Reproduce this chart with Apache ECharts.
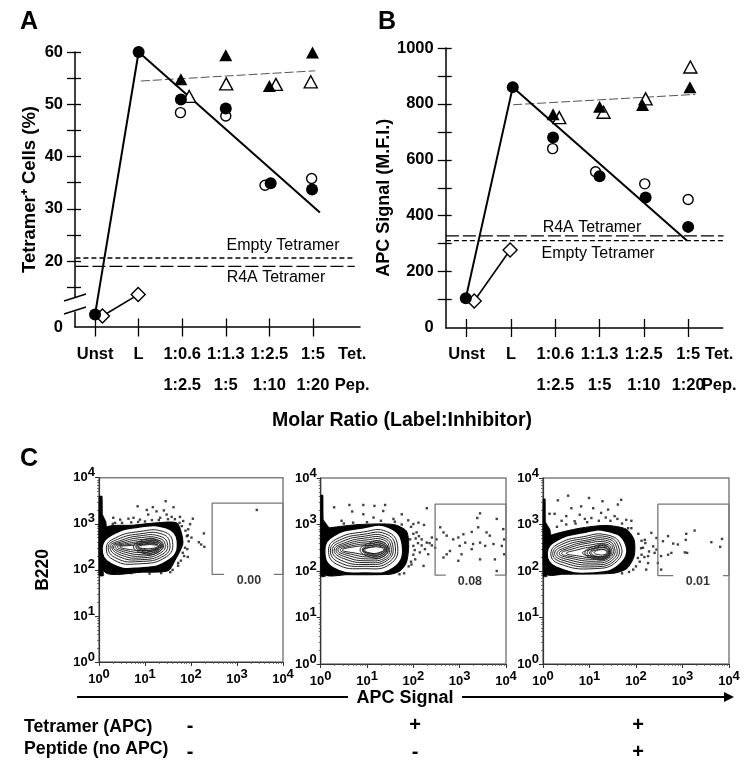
<!DOCTYPE html>
<html><head><meta charset="utf-8">
<script src="https://cdn.jsdelivr.net/npm/echarts@6/dist/echarts.min.js"></script>
<style>html,body{margin:0;padding:0;background:#fff}#c{width:750px;height:769px}</style></head>
<body><div id="c"></div>
<script>
const tickLabels = ['Unst','L','1:0.6\n1:2.5','1:1.3\n1:5','1:2.5\n1:10','1:5\n1:20'];
const sideLabel = 'Tet.\nPep.';
// Panel A
const aFilledCircle = [[1,60],[1.97,50.9],[3,49.2],[4.03,34.9],[4.98,33.7]];
const aUnstCircle = [[0,2.4],[1,60]];
const aOpenCircle = [[1.96,48.4],[3,47.75],[3.9,34.5],[4.97,35.8]];
const aFilledTri = [[1.97,54.8],[3,59.4],[4,53.5],[4.99,59.9]];
const aOpenTri = [[2.16,51.5],[3.01,53.9],[4.15,53.8],[4.95,54.3]];
const aDiamond = [[0.17,2.1],[0.99,13.6]];
const aFitSolid = [[1,60],[5.16,29.3]];
const aFitDashed = [[1.05,54.45],[5.05,56.4]];
const aEmpty = [[-0.45,20.6],[5.96,20.6]];
const aR4A = [[-0.45,19],[5.96,19]];
// Panel B
const bFilledCircle = [[1.04,860],[1.95,680],[3,541],[4.04,465],[5,360]];
const bUnstCircle = [[-0.02,105],[1.04,860]];
const bOpenCircle = [[1.94,640],[2.91,557],[4.02,514],[5,458]];
const bFilledTri = [[1.95,763],[3,790],[3.97,796],[5.04,860]];
const bOpenTri = [[2.09,751],[3.09,770],[4.04,818],[5.05,932]];
const bDiamond = [[0.17,95],[0.98,277]];
const bFitSolid = [[1.04,860],[4.97,311]];
const bFitDashed = [[1.05,797],[5.16,834]];
const bEmpty = [[-0.47,311],[5.8,311]];
const bR4A = [[-0.47,328],[5.8,328]];
// Panel C, all values are log10 of the signal
const gateValues = ['0.00','0.08','0.01'];
const decadeLabels = [0,1,2,3,4];
const contours1 = [
[[.11,2.47],[.3,2.72],[.85,2.88],[1.45,2.87],[1.66,2.62],[1.5,2.25],[.85,2.08],[.28,2.17]],
[[.16,2.48],[.35,2.69],[.87,2.83],[1.4,2.83],[1.6,2.6],[1.46,2.28],[.85,2.13],[.33,2.21]],
[[.2,2.49],[.4,2.66],[.88,2.78],[1.36,2.78],[1.54,2.58],[1.42,2.31],[.87,2.18],[.38,2.25]],
[[.24,2.5],[.45,2.63],[.9,2.74],[1.32,2.73],[1.49,2.56],[1.38,2.34],[.9,2.22],[.43,2.29]],
[[.28,2.5],[.5,2.61],[.92,2.7],[1.29,2.69],[1.44,2.55],[1.34,2.37],[.93,2.26],[.48,2.32]],
[[.31,2.5],[.55,2.59],[.95,2.66],[1.27,2.65],[1.4,2.54],[1.31,2.4],[.96,2.3],[.53,2.35]],
[[.35,2.5],[.6,2.57],[.98,2.62],[1.25,2.62],[1.36,2.53],[1.28,2.43],[.98,2.34],[.58,2.38]],
[[.4,2.5],[.65,2.55],[1.0,2.59],[1.23,2.59],[1.33,2.52],[1.25,2.45],[1.0,2.38],[.63,2.41]],
[[.45,2.5],[.7,2.53],[1.02,2.56],[1.21,2.56],[1.3,2.51],[1.22,2.46],[1.02,2.42],[.68,2.44]],
[[.85,2.5],[1.0,2.54],[1.2,2.54],[1.27,2.5],[1.18,2.47],[1.0,2.46]],
[[.75,2.5],[1.0,2.66],[1.25,2.66],[1.38,2.52],[1.25,2.36],[1.0,2.35]],
[[.8,2.5],[1.02,2.63],[1.24,2.63],[1.35,2.52],[1.24,2.39],[1.02,2.38]],
[[.82,2.5],[1.03,2.6],[1.22,2.6],[1.33,2.52],[1.22,2.42],[1.03,2.41]],
[[.85,2.5],[1.04,2.57],[1.2,2.57],[1.3,2.51],[1.2,2.44],[1.04,2.43]]];
const contours2 = [
[[.13,2.44],[.3,2.72],[.9,2.88],[1.45,2.9],[1.72,2.55],[1.55,2.1],[.95,2.0],[.3,2.1]],
[[.17,2.45],[.35,2.69],[.92,2.84],[1.42,2.85],[1.66,2.54],[1.5,2.15],[.95,2.05],[.34,2.15]],
[[.21,2.45],[.4,2.66],[.93,2.79],[1.4,2.8],[1.61,2.53],[1.47,2.19],[.97,2.1],[.39,2.19]],
[[.25,2.45],[.45,2.63],[.95,2.75],[1.38,2.75],[1.56,2.52],[1.44,2.23],[.98,2.14],[.44,2.23]],
[[.29,2.45],[.5,2.6],[.97,2.71],[1.36,2.71],[1.52,2.51],[1.42,2.26],[1.0,2.18],[.49,2.27]],
[[.33,2.45],[.55,2.58],[1.0,2.67],[1.35,2.67],[1.48,2.5],[1.4,2.29],[1.02,2.22],[.54,2.3]],
[[.37,2.45],[.6,2.56],[1.03,2.63],[1.33,2.63],[1.45,2.49],[1.37,2.32],[1.05,2.26],[.6,2.33]],
[[.42,2.45],[.66,2.54],[1.06,2.59],[1.31,2.59],[1.42,2.48],[1.35,2.35],[1.08,2.3],[.66,2.36]],
[[.47,2.45],[.72,2.52],[1.09,2.55],[1.3,2.55],[1.39,2.47],[1.33,2.38],[1.1,2.34],[.72,2.39]],
[[.9,2.45],[1.1,2.51],[1.28,2.51],[1.36,2.46],[1.3,2.41],[1.1,2.38]],
[[.85,2.45],[1.1,2.62],[1.33,2.62],[1.46,2.47],[1.33,2.3],[1.1,2.29]],
[[.9,2.45],[1.12,2.59],[1.32,2.59],[1.43,2.47],[1.32,2.33],[1.12,2.32]],
[[.92,2.45],[1.13,2.56],[1.3,2.56],[1.41,2.47],[1.3,2.36],[1.13,2.35]],
[[.95,2.45],[1.14,2.53],[1.28,2.53],[1.38,2.46],[1.28,2.39],[1.14,2.37]]];
const contours3 = [
[[.13,2.38],[.32,2.62],[.85,2.78],[1.35,2.82],[1.72,2.6],[1.65,2.2],[1.1,2.0],[.3,2.12]],
[[.17,2.38],[.36,2.6],[.88,2.74],[1.35,2.78],[1.66,2.58],[1.6,2.22],[1.1,2.05],[.34,2.16]],
[[.21,2.38],[.4,2.57],[.9,2.7],[1.35,2.74],[1.61,2.56],[1.56,2.24],[1.1,2.09],[.38,2.2]],
[[.25,2.38],[.45,2.54],[.92,2.66],[1.35,2.7],[1.57,2.54],[1.52,2.26],[1.11,2.13],[.43,2.23]],
[[.3,2.38],[.5,2.51],[.95,2.63],[1.35,2.66],[1.53,2.52],[1.48,2.28],[1.12,2.17],[.48,2.26]],
[[.35,2.38],[.55,2.49],[.98,2.6],[1.35,2.62],[1.5,2.5],[1.45,2.3],[1.13,2.21],[.53,2.29]],
[[.4,2.38],[.62,2.47],[1.02,2.56],[1.35,2.58],[1.47,2.47],[1.42,2.31],[1.15,2.25],[.6,2.31]],
[[.5,2.38],[.72,2.45],[1.05,2.52],[1.35,2.54],[1.44,2.45],[1.4,2.33],[1.17,2.28],[.72,2.33]],
[[.85,2.38],[1.08,2.48],[1.34,2.5],[1.41,2.42],[1.38,2.34],[1.18,2.31]],
[[1.1,2.4],[1.25,2.46],[1.37,2.42],[1.34,2.36],[1.2,2.35]],
[[.9,2.39],[1.15,2.55],[1.36,2.55],[1.45,2.4],[1.36,2.27],[1.15,2.25]],
[[.95,2.39],[1.17,2.52],[1.35,2.52],[1.43,2.4],[1.35,2.29],[1.17,2.27]],
[[1,2.39],[1.18,2.49],[1.34,2.49],[1.41,2.4],[1.34,2.31],[1.18,2.29]],
[[1.03,2.39],[1.19,2.46],[1.32,2.46],[1.39,2.4],[1.32,2.33],[1.19,2.31]]];
const band1 = [[.13,1.95],[.13,2.9],[.75,2.97],[1.25,3.02],[1.69,3.02],[1.8,2.77],[1.82,2.55],[1.65,2.2],[1.5,1.98],[.96,1.95]];
const band2 = [[.09,1.93],[.1,2.9],[.2,2.93],[.85,3.0],[1.57,3.0],[1.85,2.86],[1.9,2.54],[1.85,2.18],[1.71,2.0],[1.5,1.93],[.56,1.92]];
const band3 = [[.09,1.93],[.1,2.7],[.2,2.78],[.79,2.92],[1.36,2.98],[1.79,2.9],[1.96,2.67],[1.96,2.32],[1.8,2.05],[1.5,1.95],[.43,1.93]];
const spike1 = [[0,3.6],[.07,3.6],[.08,3.2],[.15,3.05],[.17,2.9],[.1,2.2],[.1,1.87],[0,1.87]];
const spike2 = [[0,3.63],[.05,3.63],[.06,3.1],[.17,2.95],[.2,2.8],[.1,2.2],[.1,1.88],[0,1.88]];
const spike3 = [[0,3.55],[.05,3.55],[.06,3.05],[.15,2.9],[.18,2.7],[.1,2.2],[.09,1.88],[0,1.88]];
const dots1 = [[.84,3.38],[1.17,3.36],[1.45,3.49],[1.62,3.36],[1.41,3.29],[1.25,3.27],[1.04,3.3],[3.43,3.3],[2.04,3.11],[2.28,2.79],[2.17,2.6],[2.29,2.5],[2.22,2.55],[1.93,2.28],[2.01,2.7],[1.94,2.88],[1.72,2.09],[.31,3.13],[.46,3.09],[.64,3.11],[.75,3.13],[.35,3.02],[.89,3.09],[1.07,3.2],[1.33,3.13],[1.47,3.2],[1.58,3.15],[1.76,3.15],[1.83,3.06],[1.98,2.99],[1.91,2.73],[1.87,2.48],[1.82,2.37],
[.3,3.0],[.5,3.02],[.7,3.03],[.85,3.04],[1.0,3.05],[1.15,3.08],[1.3,3.08],[1.5,3.1],[1.65,3.1],[1.75,3.02],[1.8,2.95],[1.88,2.85],[1.93,2.75],[1.95,2.62],[1.92,2.45],[1.85,2.3],[1.78,2.2],[1.72,2.15],[1.6,2.0],[1.55,1.95],[.4,1.93],[.7,1.93],[1.1,1.92],[1.35,1.93]];
const dots2 = [[.29,3.37],[.62,3.42],[.92,3.42],[1.16,3.4],[1.39,3.42],[.68,3.28],[1.35,3.29],[1.75,3.22],[2.29,3.35],[3.44,3.24],[3.38,3.14],[3.8,3.12],[.45,3.08],[.92,3.22],[1.14,3.15],[1.57,3.12],[1.89,3.09],[2.23,2.99],[2.07,2.83],[2.18,2.68],[2.29,2.61],[2.4,2.72],[2.58,2.94],[2.65,2.83],[2.72,2.76],[2.5,2.68],[2.47,2.5],[2.65,2.29],[2.86,2.68],[2.97,2.72],[3.08,2.79],[3.26,2.84],[3.4,2.94],[3.58,2.83],[3.65,2.76],[3.44,2.61],[3.29,2.58],[3.12,2.61],[3.0,2.54],[3.04,2.36],[2.79,2.43],[2.97,2.22],[3.44,2.25],[3.76,2.25],[3.8,2.0],[3.94,2.9],[3.96,2.68],[3.91,2.54],[3.96,2.36],[3.73,2.58],[2.04,2.25],[2.22,2.11],[1.96,2.14],[2.14,2.4],[2.0,2.54],[2.32,2.36],[1.93,2.68],[2.11,3.04],[2.0,3.01],[2.72,2.36],[3.26,2.47],[3.55,2.54],
[1.95,2.95],[2.0,2.8],[2.05,2.7],[2.1,2.6],[2.03,2.45],[2.0,2.35],[1.95,2.2],[1.9,2.1],[1.8,1.95],[1.7,1.93],[.5,3.02],[.7,3.04],[1.0,3.05],[1.3,3.08],[1.6,3.06],[1.75,3.0],[2.12,2.75],[2.18,2.55],[2.25,2.47],[2.35,2.6],[2.4,2.55]];
const dots3 = [[.32,3.52],[.54,3.62],[.99,3.57],[1.68,3.53],[1.28,3.5],[1.61,3.43],[.61,3.35],[.82,3.39],[1.08,3.35],[1.4,3.32],[.14,3.23],[.25,3.23],[.5,3.18],[.79,3.21],[1.04,3.14],[1.25,3.25],[1.54,3.18],[1.79,3.1],[1.9,3.08],[.68,3.07],[1.83,2.92],[2.33,2.82],[2.19,2.67],[2.44,2.71],[2.69,2.75],[3.08,2.8],[3.26,2.87],[3.07,2.67],[3.62,2.62],[3.85,2.69],[3.81,2.52],[2.69,2.35],[2.54,2.32],[2.47,2.17],[2.76,2.39],[3.05,2.4],[3.1,2.39],[2.58,2.64],[2.8,2.59],[2.9,2.57],[2.54,2.03],[2.4,2.39],[2.26,2.32],[2.37,2.53],[2.11,2.49],[2.04,2.28],[2.22,2.03],[1.94,2.03],[2.44,2.46],[2.26,2.17],
[.3,2.95],[.5,3.0],[.7,3.02],[.95,3.05],[1.2,3.08],[1.45,3.08],[1.7,3.02],[1.9,2.92],[2.05,2.8],[2.12,2.65],[2.15,2.5],[2.12,2.35],[2.08,2.2],[2.0,2.1],[1.85,1.98],[1.7,1.95],[2.2,2.6],[2.28,2.42],[2.18,2.3],[.4,3.08],[.9,3.12],[1.35,3.15],[1.6,3.12]];
const gateTop = [3.45,3.44,3.44];
const gateLeft = [2.46,2.47,2.47];
const gateBottom = [1.9,1.91,1.9];
const gateDashEnd = [2.72,2.7,2.8];
const gateDashStart = [3.8,3.76,3.87];
const gateLabelAt = [[3.26,1.76],[3.22,1.77],[3.33,1.77]];

const F = '"Liberation Sans", Arial, sans-serif';
const grids = [
 {left:75, top:52, width:285, height:275},
 {left:445.7, top:48, width:277, height:279.5},
 {left:99, top:477.7, width:184, height:184.3, show:true, borderColor:'#808080', borderWidth:1.5},
 {left:320.7, top:478, width:185.3, height:186, show:true, borderColor:'#808080', borderWidth:1.5},
 {left:543, top:478, width:186, height:186, show:true, borderColor:'#808080', borderWidth:1.5}
];
const xAxes=[], yAxes=[], series=[];
const hide = {show:false};
function mainAxes(g, xMin, xMax, yOpt, yTicks, yLabels, yTitle, nameGap, namePad, labelX, titleSize){
  const xBase = {type:'value', gridIndex:g, min:xMin, max:xMax, splitLine:hide, position:'bottom'};
  const labelStyle = {margin:11.5, hideOverlap:false, showMinLabel:true, showMaxLabel:true,
      color:'#000', fontFamily:F, fontWeight:'bold', fontSize:16.5, lineHeight:31};
  xAxes.push({...xBase, axisLine:{onZero:false, lineStyle:{color:'#000',width:1.5}},
    axisTick:{customValues:[0,1,2,3,4,5], length:9.5, lineStyle:{color:'#000',width:1.3}},
    axisLabel:{...labelStyle, customValues:[0,1,2,3,4,5], formatter:v=>tickLabels[Math.round(v)]}});
  xAxes.push({...xBase, axisLine:{show:false,onZero:false},
    axisLabel:{...labelStyle, customValues:[labelX], formatter:()=>sideLabel},
    axisTick:{inside:true, customValues:[0,1,2,3,4,5], length:8.5, lineStyle:{color:'#000',width:1.3}}});
  yAxes.push({type:'value', gridIndex:g, ...yOpt, splitLine:hide, position:'left',
    axisLine:{show:true, onZero:false, lineStyle:{color:'#000',width:1.5}},
    axisTick:{show:true, customValues:yTicks, length:8, lineStyle:{color:'#000',width:1.3}},
    axisLabel:{customValues:yLabels, margin:12, color:'#000', fontFamily:F, fontWeight:'bold', fontSize:16.5, formatter:v=>String(v)},
    name:yTitle, nameLocation:'middle', nameGap:nameGap,
    nameTextStyle:{color:'#000', fontFamily:F, fontWeight:'bold', fontSize:titleSize, padding:namePad}});
  yAxes.push({type:'value', gridIndex:g, ...yOpt, splitLine:hide, position:'left',
    axisLine:{show:false,onZero:false}, axisLabel:hide,
    axisTick:{show:true, inside:true, customValues:yTicks, length:6, lineStyle:{color:'#000',width:1.3}}});
}
mainAxes(0,-0.46,6.08,{min:0,max:60,breaks:[{start:3,end:11.9,gap:1.5}],breakArea:{show:false}},
  [15,20,25,30,35,40,45,50,55,60],[0,20,30,40,50,60],'Tetramer⁺ Cells (%)',36,[0,0,0,0],5.9,18.5);
mainAxes(1,-0.474,5.78,{min:0,max:1000,interval:100},
  [100,200,300,400,500,600,700,800,900,1000],[0,200,400,600,800,1000],'APC Signal (M.F.I.)',42.5,[0,20,0,0],5.7,18);

function mark(xi,yi,data,symbol,size,filled,z){
  series.push({type:'scatter',xAxisIndex:xi,yAxisIndex:yi,data,symbol,symbolSize:size,clip:false,z:z||3,
    itemStyle:{color:filled?'#000':'#fff',borderColor:'#000',borderWidth:filled?0:1.4,opacity:1}});
}
function line(xi,yi,data,width,color,dash,z){
  series.push({type:'line',xAxisIndex:xi,yAxisIndex:yi,data,symbol:'none',clip:false,z:z||2,animation:false,
    lineStyle:{color,width,type:dash||'solid'}});
}
function panel(xi,yi,d){
  line(xi,yi,d.empty,1.3,'#000',[5,3]);
  line(xi,yi,d.r4a,1.3,'#000',[13,4]);
  line(xi,yi,d.fd,1,'#555',[9,3]);
  line(xi,yi,d.diamond,1.6,'#000');
  line(xi,yi,d.unst,2,'#000');
  line(xi,yi,d.fit,2,'#000');
  mark(xi,yi,d.diamond,'diamond',[14,14],false,3);
  mark(xi,yi,d.ot,'triangle',[13,12],false,3);
  mark(xi,yi,d.oc,'circle',10,false,3);
  mark(xi,yi,d.ft,'triangle',[13,12],true,4);
  mark(xi,yi,d.fc,'circle',12,true,4);
  mark(xi,yi,[d.unst[0]],'circle',12,true,4);
}
panel(0,0,{empty:aEmpty,r4a:aR4A,fd:aFitDashed,diamond:aDiamond,unst:aUnstCircle,fit:aFitSolid,ot:aOpenTri,oc:aOpenCircle,ft:aFilledTri,fc:aFilledCircle});
panel(2,2,{empty:bEmpty,r4a:bR4A,fd:bFitDashed,diamond:bDiamond,unst:bUnstCircle,fit:bFitSolid,ot:bOpenTri,oc:bOpenCircle,ft:bFilledTri,fc:bFilledCircle});

const decadeRich = {b:{fontFamily:F,fontSize:13,fontWeight:'bold',color:'#000'},
  s:{fontFamily:F,fontSize:13,fontWeight:'bold',color:'#000',padding:[0,0,10,0]}};
const minorValues = [];
[0,1,2,3].forEach(d=>[2,3,4,5,6,7,8,9].forEach(k=>minorValues.push(d+Math.log10(k))));
function polySeries(xi,yi,list,smooth,styleFn,z){
  series.push({type:'custom',xAxisIndex:xi,yAxisIndex:yi,clip:false,z,animation:false,
    data:list.map((l,i)=>[l[0][0],l[0][1],i]),encode:{x:0,y:1},
    renderItem:(params,api)=>{const i=api.value(2);
      return {type:'polygon',shape:{points:list[i].map(p=>api.coord(p)),smooth},style:styleFn(i)};}});
}
[[contours1,band1,spike1,dots1],[contours2,band2,spike2,dots2],[contours3,band3,spike3,dots3]].forEach((p,k)=>{
  const g=k+2, xi=xAxes.length, yi=yAxes.length;
  const base = {type:'value',gridIndex:g,min:0,max:4,interval:1,splitLine:hide};
  const lab = {color:'#000',fontFamily:F,rich:decadeRich,hideOverlap:false};
  xAxes.push({...base,position:'bottom',axisLine:{onZero:false,lineStyle:{color:'#333',width:1.2}},axisTick:{length:4,lineStyle:{color:'#333'}},
    axisLabel:{...lab,margin:5.5,showMinLabel:true,showMaxLabel:true,formatter:v=>'{b|10}{s|'+decadeLabels[v]+'}'}});
  xAxes.push({...base,position:'bottom',axisLine:{show:false,onZero:false},axisLabel:hide,axisTick:{customValues:minorValues,length:2,lineStyle:{color:'#555',width:.8}}});
  yAxes.push({...base,position:'left',axisLine:{show:true,onZero:false,lineStyle:{color:'#333',width:1.2}},axisTick:{show:true,length:4,lineStyle:{color:'#333'}},
    axisLabel:{...lab,margin:4,showMinLabel:true,showMaxLabel:true,formatter:v=>'{b|10}{s|'+decadeLabels[v]+'}'},
    ...(k===0?{name:'B220',nameLocation:'middle',nameGap:47,nameTextStyle:{color:'#000',fontFamily:F,fontWeight:'bold',fontSize:17.5}}:{})});
  yAxes.push({...base,position:'left',axisLine:{show:false,onZero:false},axisLabel:hide,axisTick:{show:true,customValues:minorValues,length:2,lineStyle:{color:'#555',width:.8}}});
  const [cs,band,spike,dots]=p;
  polySeries(xi,yi,[band],0.25,()=>({fill:'#000',stroke:'#000',lineWidth:1}),2);
  polySeries(xi,yi,[spike],0.1,()=>({fill:'#000',stroke:'#000',lineWidth:.5}),2);
  polySeries(xi,yi,cs,0.5,i=> i===0?{fill:'#fff',stroke:'#fff',lineWidth:2.5}:{fill:'none',stroke:'#222',lineWidth:1},3);
  series.push({type:'scatter',xAxisIndex:xi,yAxisIndex:yi,data:dots,symbol:'rect',symbolSize:2.4,itemStyle:{color:'#111'},z:4});
  const c=k;
  line(xi,yi,[[gateDashEnd[c],gateBottom[c]],[gateLeft[c],gateBottom[c]],[gateLeft[c],gateTop[c]],[4,gateTop[c]],[4,gateBottom[c]],[gateDashStart[c],gateBottom[c]]],1.3,'#777',null,5);
  series.push({type:'scatter',xAxisIndex:xi,yAxisIndex:yi,data:[gateLabelAt[c]],symbolSize:0,z:6,
    label:{show:true,position:'inside',formatter:gateValues[c],fontFamily:F,fontWeight:'bold',fontSize:12.5,color:'#000'}});
});

function txt(x,y,text,size,weight,align){
  return {type:'text',x,y,z:20,style:{text,fontFamily:F,fontSize:size,fontWeight:weight||'bold',fill:'#000',align:align||'center',verticalAlign:'middle'}};
}
const graphic = [
  txt(20,22,'A',25,'bold','left'), txt(378,22,'B',25,'bold','left'), txt(20,459,'C',25,'bold','left'),
  txt(402,421,'Molar Ratio (Label:Inhibitor)',19.5),
  txt(283,246,'Empty Tetramer',16,'normal'), txt(276,278,'R4A Tetramer',16,'normal'),
  txt(592,228,'R4A Tetramer',16,'normal'), txt(598,254,'Empty Tetramer',16,'normal'),
  {type:'rect',z:19,shape:{x:72,y:297.5,width:6,height:10},style:{fill:'#fff'}},
  {type:'line',z:20,shape:{x1:64,y1:301,x2:86,y2:294},style:{stroke:'#000',lineWidth:1.4}},
  {type:'line',z:20,shape:{x1:64,y1:314,x2:86,y2:307},style:{stroke:'#000',lineWidth:1.4}},
  {type:'line',z:20,shape:{x1:77,y1:697,x2:726,y2:697},style:{stroke:'#000',lineWidth:2}},
  {type:'polygon',z:20,shape:{points:[[724,692],[734,697],[724,702]]},style:{fill:'#000'}},
  {type:'rect',z:21,shape:{x:348,y:688,width:114,height:18},style:{fill:'#fff'}},
  {...txt(405,698,'APC Signal',18),z:22},
  txt(24,727,'Tetramer (APC)',17.7,'bold','left'), txt(24,749,'Peptide (no APC)',17.7,'bold','left'),
  txt(190,726,'-',20), txt(190,752,'-',20),
  txt(415,725,'+',20), txt(415,752,'-',20),
  txt(638,725,'+',20), txt(638,752,'+',20)
];
const chart = echarts.init(document.getElementById('c'),null,{renderer:'canvas'});
chart.setOption({animation:false,backgroundColor:'#fff',grid:grids,xAxis:xAxes,yAxis:yAxes,series,graphic});
</script></body></html>
